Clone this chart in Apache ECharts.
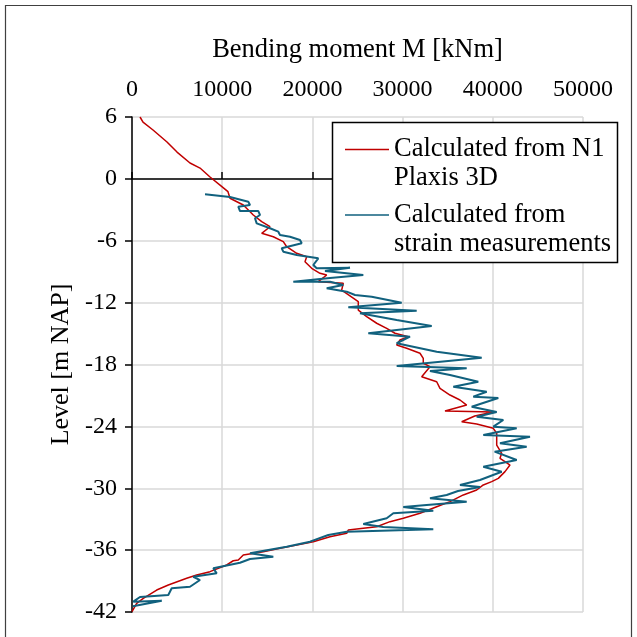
<!DOCTYPE html>
<html>
<head>
<meta charset="utf-8">
<script src="https://cdn.jsdelivr.net/npm/echarts@6/dist/echarts.min.js"></script>
<style>
  html, body { margin: 0; padding: 0; background: #fff; }
  #chart { width: 637px; height: 637px; }
</style>
</head>
<body>
<div id="chart"></div>
<script>
// bending moment [kNm] vs level [m NAP]
var plaxisMoment = [887, 1220, 2330, 3880, 4990, 6430, 7540, 8650, 9760, 10640,
  10864, 12339, 13447, 14379, 15299, 14379, 15665, 16773, 17150, 18259,
  19367, 19179, 19922, 20842, 21585, 20653, 23425, 23247, 25088, 25088,
  26019, 27128, 28236, 29156, 30631, 29710, 29345, 30453, 31928, 32293,
  32293, 33036, 32117, 33780, 34145, 35253, 36362, 37105, 34700, 40055,
  38000, 36550, 38213, 40055, 40432, 40432, 40986, 40797, 41352, 41906,
  41352, 40610, 39877, 38946, 38213, 36730, 35253, 33780, 31928, 30076,
  28602, 27128, 25642, 23979, 23802, 21950, 20099, 18259, 16407, 14556,
  12339, 11784, 11230, 10498, 8647, 7173, 6064, 4024, 2738, 1253, 521, 0];
var plaxisLevel = [6.0, 5.5, 4.74, 3.58, 2.6, 1.54, 1.05, 0.18, -0.6, -1.24,
  -1.88, -2.53, -3.5, -4.15, -4.64, -5.28, -5.61, -6.09, -6.58, -7.22,
  -7.55, -8.03, -8.67, -9.16, -9.32, -9.97, -10.13, -10.78, -11.91, -12.72,
  -13.36, -14.0, -14.49, -14.97, -15.3, -15.62, -16.11, -16.43, -16.91, -17.4,
  -17.88, -18.21, -19.18, -19.67, -20.31, -20.96, -21.44, -21.93, -22.51, -22.6,
  -23.0, -23.55, -23.77, -24.19, -24.67, -25.81, -26.61, -27.1, -27.42, -27.75,
  -28.39, -29.04, -29.36, -29.68, -30.17, -30.65, -31.3, -31.79, -32.43, -32.91,
  -33.24, -33.73, -33.88, -34.05, -34.37, -34.7, -35.18, -35.5, -35.82, -36.15,
  -36.47, -36.96, -37.03, -37.44, -38.09, -38.41, -38.73, -39.38, -39.87, -40.67, -41.16, -41.97];

var strainMoment = [8093, 10864, 12893, 13081, 11784, 11973, 14002, 14190, 13636, 13824,
  15299, 16219, 16407, 17516, 18624, 18813, 16596, 16773, 18259, 19545,
  20653, 20099, 20476, 24168, 21396, 25642, 21950, 17882, 21950, 23425,
  21585, 23802, 24722, 26573, 29899, 23979, 31562, 25276, 29345, 33225,
  26196, 30819, 29345, 33780, 38768, 29345, 37105, 33036, 35253, 38391,
  35620, 39323, 37837, 40610, 37660, 40432, 38213, 41163, 40055, 42648,
  38946, 44122, 40797, 43757, 40200, 42648, 38946, 40986, 38579, 36362,
  38579, 36141, 34887, 33036, 37105, 32670, 30076, 33402, 28968, 28236,
  25642, 27859, 33402, 23802, 21762, 19733, 17150, 13081, 15665, 13081,
  11973, 9013, 9390, 6796, 7538, 6430, 4401, 4024, 887, 144, 3300, 100];
var strainLevel = [-1.5, -1.76, -2.21, -2.53, -2.7, -3.12, -3.12, -3.5, -3.82, -4.31,
  -4.79, -5.12, -5.44, -5.61, -5.93, -6.25, -6.73, -7.06, -7.38, -7.55,
  -7.7, -8.35, -8.67, -8.61, -8.93, -9.32, -9.61, -9.97, -9.97, -10.29,
  -10.61, -10.94, -11.26, -11.43, -12.01, -12.45, -12.78, -13.04, -13.68, -14.27,
  -14.97, -15.3, -15.94, -16.76, -17.34, -18.15, -18.37, -18.63, -19.02, -19.67,
  -20.15, -20.64, -21.12, -21.25, -22.09, -22.61, -23.06, -23.38, -24.03, -24.19,
  -24.84, -25.0, -25.64, -25.97, -26.45, -27.26, -27.91, -28.4, -29.2, -29.68,
  -29.87, -30.27, -30.65, -30.97, -31.3, -31.62, -31.82, -32.18, -32.43, -32.91,
  -33.47, -33.76, -33.98, -34.21, -34.53, -35.18, -35.67, -36.31, -36.64, -36.86,
  -37.22, -37.76, -38.25, -38.58, -38.9, -39.55, -39.7, -40.35, -40.55, -41.0, -40.9, -41.45];

var seriesNames = ["Calculated from N1\nPlaxis 3D", "Calculated from\nstrain measurements"];
var seriesColors = ["#c00000", "#11617e"];

function pairs(xs, ys) {
  return xs.map(function (x, i) { return [x, ys[i]]; });
}

var FONT = "Liberation Serif";

var myChart = echarts.init(document.getElementById("chart"));
var option = {
  animation: false,
  textStyle: { fontFamily: FONT },
  grid: { left: 132, right: 54, top: 117, bottom: 25 },
  xAxis: {
    type: "value",
    position: "top",
    min: 0,
    max: 50000,
    interval: 10000,
    name: "Bending moment M [kNm]",
    nameLocation: "middle",
    nameGap: 53,
    nameTextStyle: { fontFamily: FONT, fontSize: 26.5, color: "#000" },
    axisLine: { lineStyle: { color: "#000", width: 1.5 } },
    axisTick: { show: true, length: 7, lineStyle: { color: "#000", width: 1.5 } },
    axisLabel: {
      fontFamily: FONT, fontSize: 24, color: "#000", margin: 15,
      formatter: function (v) { return String(v); },
    },
    splitLine: { lineStyle: { color: "#d9d9d9", width: 1.5 } },
  },
  yAxis: {
    type: "value",
    min: -42,
    max: 6,
    interval: 6,
    name: "Level [m NAP]",
    nameLocation: "middle",
    nameGap: 58,
    nameTextStyle: { fontFamily: FONT, fontSize: 26, color: "#000" },
    axisLine: { show: true, lineStyle: { color: "#000", width: 1.5 } },
    axisTick: { show: true, length: 7, lineStyle: { color: "#000", width: 1.5 } },
    axisLabel: { fontFamily: FONT, fontSize: 24, color: "#000", margin: 15 },
    splitLine: { lineStyle: { color: "#d9d9d9", width: 1.5 } },
  },
  // one legend per entry; a blank first line puts the line icon beside the first text line
  legend: [0, 1].map(function (i) {
    return {
      data: [seriesNames[i]],
      left: 345,
      top: i === 0 ? 106 : 171.5,
      padding: 0,
      icon: "rect",
      itemWidth: 44,
      itemHeight: 1.6,
      z: 10,
      formatter: function (name) { return " \n" + name; },
      textStyle: {
        fontFamily: FONT,
        fontSize: 26.5,
        color: "#000",
        lineHeight: 29,
      },
    };
  }),
  graphic: [
    {
      type: "rect",
      z: 5,
      shape: { x: 332.5, y: 122.5, width: 285, height: 140 },
      style: { fill: "#fff", stroke: "#000", lineWidth: 1.5 },
    },
    {
      type: "rect",
      z: 5,
      shape: { x: 5.5, y: 5.5, width: 626, height: 640 },
      style: { fill: null, stroke: "#404040", lineWidth: 1.2 },
    },
  ],
  series: [
    {
      name: seriesNames[0],
      type: "line",
      symbol: "none",
      color: seriesColors[0],
      lineStyle: { width: 1.5 },
      data: pairs(plaxisMoment, plaxisLevel),
    },
    {
      name: seriesNames[1],
      type: "line",
      symbol: "none",
      color: seriesColors[1],
      lineStyle: { width: 2 },
      data: pairs(strainMoment, strainLevel),
    },
  ],
};
myChart.setOption(option);
</script>
</body>
</html>
